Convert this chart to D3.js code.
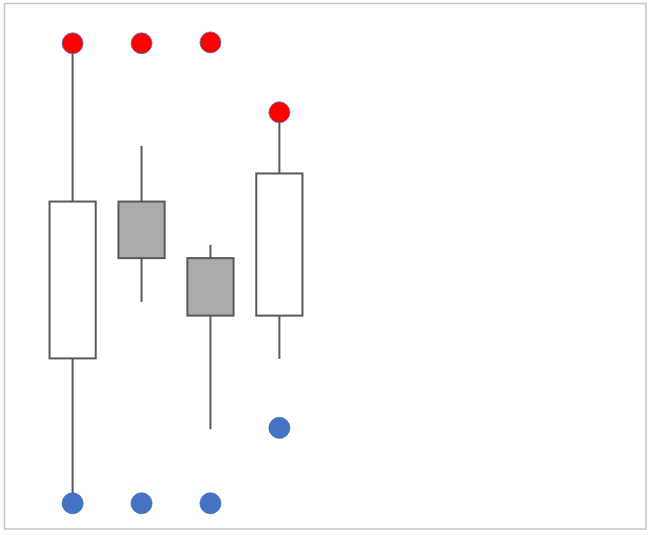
<!DOCTYPE html>
<html>
<head>
<meta charset="utf-8">
<script src="https://cdn.jsdelivr.net/npm/d3@7"></script>
<style>
  html, body { margin: 0; padding: 0; background: #fff; }
  svg { display: block; }
</style>
</head>
<body>
<svg id="chart" width="650" height="535"></svg>
<script>
// Data (arbitrary units 0..10)
const categories = ["1", "2", "3", "4"];
const openValues  = [3.15, 6.56, 5.33, 4.08];
const closeValues = [6.56, 5.33, 4.08, 7.17];
const highValues  = [10.0, 7.77, 5.62, 8.50];
const lowValues   = [0.00, 4.38, 1.61, 3.14];
const markerHigh  = [10.0, 10.0, 10.02, 8.50];
const markerLow   = [0.00, 0.00, 0.00, 1.64];

const svg = d3.select("#chart");

// outer border
svg.append("rect")
  .attr("x", 4.5).attr("y", 3.5)
  .attr("width", 641.5).attr("height", 525.5)
  .attr("fill", "#fff")
  .attr("stroke", "#c6c6c6")
  .attr("stroke-width", 1.5);

const x = d3.scaleBand()
  .domain(categories)
  .range([38.5, 313.5])
  .paddingInner(0.33)
  .paddingOuter(0.16);

const y = d3.scaleLinear()
  .domain([0, 10])
  .range([503.3, 43.3]);

const data = categories.map((c, i) => ({
  c, open: openValues[i], close: closeValues[i],
  high: highValues[i], low: lowValues[i],
  mh: markerHigh[i], ml: markerLow[i]
}));

const cx = d => x(d.c) + x.bandwidth() / 2;

const g = svg.append("g");

// wicks
g.selectAll("line.wick").data(data).enter().append("line")
  .attr("class", "wick")
  .attr("x1", cx).attr("x2", cx)
  .attr("y1", d => y(d.high)).attr("y2", d => y(d.low))
  .attr("stroke", "#595959").attr("stroke-width", 2);

// bodies
g.selectAll("rect.body").data(data).enter().append("rect")
  .attr("class", "body")
  .attr("x", d => x(d.c))
  .attr("width", x.bandwidth())
  .attr("y", d => y(Math.max(d.open, d.close)))
  .attr("height", d => Math.abs(y(d.open) - y(d.close)))
  .attr("fill", d => d.close >= d.open ? "#ffffff" : "#ababab")
  .attr("stroke", "#595959").attr("stroke-width", 2);

// high markers
g.selectAll("circle.hi").data(data).enter().append("circle")
  .attr("class", "hi")
  .attr("cx", cx).attr("cy", d => y(d.mh))
  .attr("r", 10.5)
  .attr("fill", "#ff0000")
  .attr("stroke", "#4472c4").attr("stroke-width", 0.75);

// low markers
g.selectAll("circle.lo").data(data).enter().append("circle")
  .attr("class", "lo")
  .attr("cx", cx).attr("cy", d => y(d.ml))
  .attr("r", 10.5)
  .attr("fill", "#4472c4")
  .attr("stroke", "#3a64ad").attr("stroke-width", 0.75);
</script>
</body>
</html>
